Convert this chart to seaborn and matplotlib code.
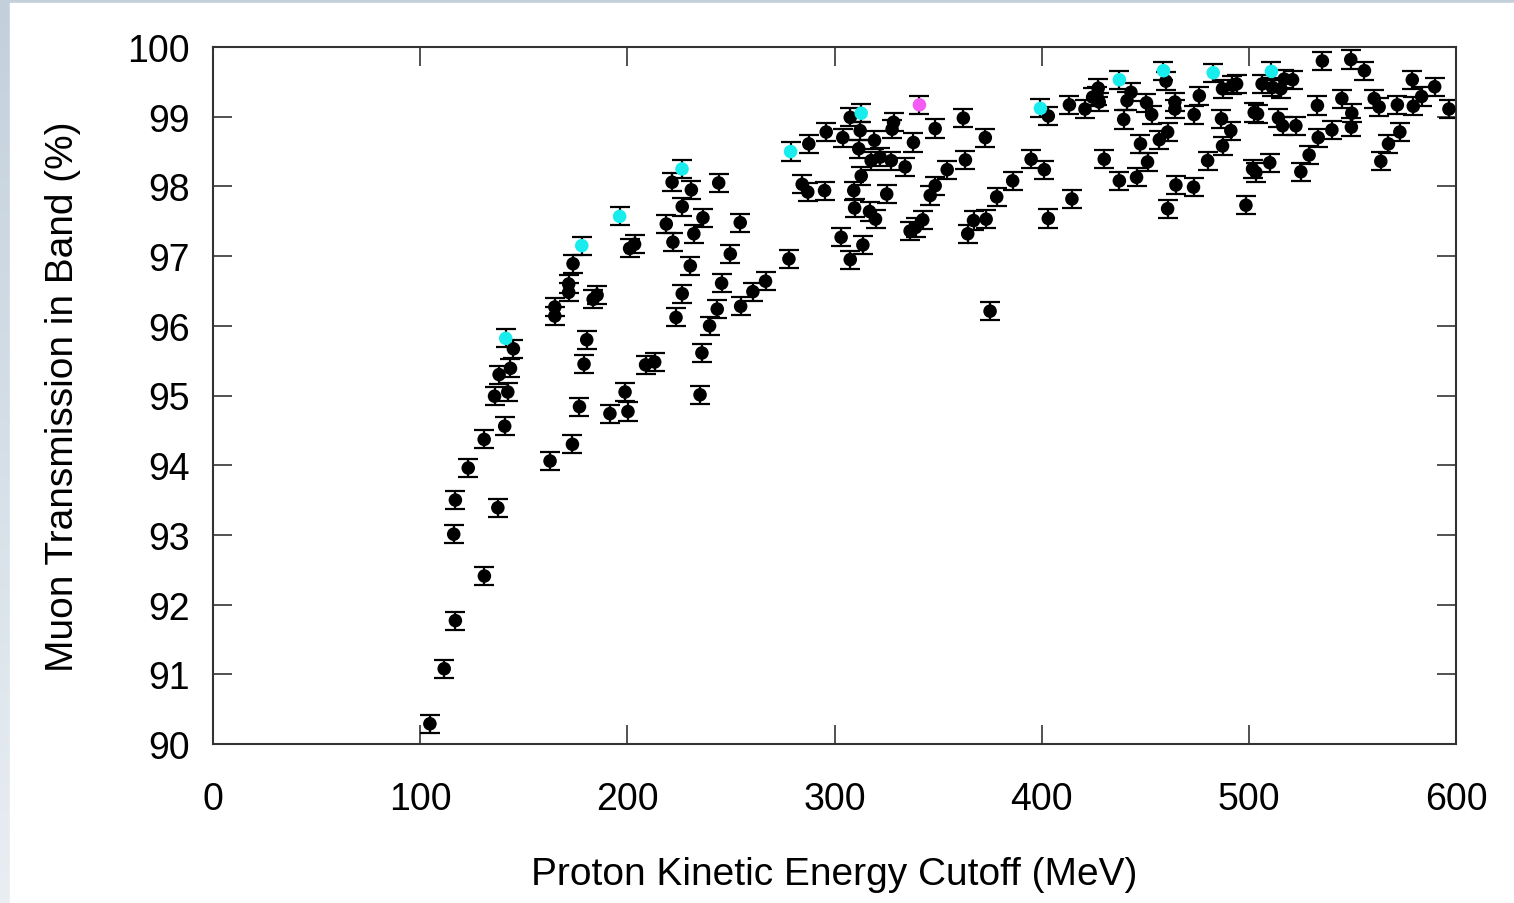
import numpy as np
import pandas as pd
import matplotlib
matplotlib.use("Agg")
import matplotlib.pyplot as plt
from matplotlib.patches import Rectangle
import seaborn as sns

# data (proton KE cutoff in MeV, transmission in %)
energy_black = [
    104.7, 111.6, 117.0, 116.2, 117.0, 131.0, 123.2, 137.5, 130.9, 140.8,
    135.9, 142.3, 138.1, 143.6, 145.0, 162.7, 173.5, 176.9, 179.1, 180.4,
    191.6, 200.3, 198.9, 208.8, 213.2, 171.7, 171.7, 165.0, 165.0, 183.5,
    185.4, 173.8, 201.1, 203.5, 221.6, 230.9, 244.1, 226.5, 218.8, 236.5,
    222.0, 232.1, 254.5, 230.4, 249.7, 226.5, 245.5, 223.5, 243.4, 239.7,
    254.7, 260.6, 266.7, 278.0, 236.0, 235.1, 284.4, 287.1, 287.6, 296.0,
    304.0, 307.6, 312.4, 319.3, 311.7, 328.5, 327.8, 348.6, 362.2, 372.8,
    338.1, 317.7, 322.0, 327.4, 334.1, 312.9, 363.2, 354.4, 295.2, 309.3,
    325.2, 348.6, 346.2, 386.0, 378.3, 309.7, 316.9, 319.8, 342.6, 336.5,
    339.1, 367.1, 373.2, 364.3, 303.2, 313.7, 307.6, 375.1, 403.2, 413.4,
    420.9, 424.6, 427.3, 427.8, 426.7, 443.1, 441.2, 439.6, 450.6, 453.1,
    460.0, 464.3, 464.3, 476.1, 473.6, 487.3, 494.1, 492.1, 486.8, 491.3,
    487.3, 460.8, 456.8, 447.7, 451.1, 445.8, 437.5, 430.2, 394.9, 401.3,
    414.6, 403.2, 464.8, 473.3, 460.8, 480.1, 498.6, 501.8, 503.4, 504.2,
    502.6, 506.4, 511.4, 515.5, 517.1, 521.1, 535.5, 549.2, 555.8, 578.9,
    589.7, 583.4, 596.6, 560.5, 562.9, 571.7, 579.4, 544.9, 549.7, 533.1,
    514.3, 516.3, 522.7, 540.1, 549.5, 533.5, 529.1, 525.1, 572.9, 567.4,
    563.7, 510.1,
]
trans_black = [
    90.29, 91.08, 91.77, 93.01, 93.50, 92.41, 93.96, 93.39, 94.37, 94.56,
    94.99, 95.05, 95.30, 95.39, 95.67, 94.06, 94.30, 94.84, 95.45, 95.80,
    94.74, 94.77, 95.05, 95.44, 95.48, 96.60, 96.48, 96.27, 96.14, 96.38,
    96.44, 96.89, 97.11, 97.17, 98.06, 97.95, 98.05, 97.71, 97.46, 97.55,
    97.20, 97.32, 97.48, 96.86, 97.03, 96.46, 96.61, 96.12, 96.24, 96.00,
    96.28, 96.49, 96.64, 96.96, 95.61, 95.01, 98.03, 97.92, 98.61, 98.78,
    98.70, 98.99, 98.80, 98.66, 98.54, 98.92, 98.82, 98.83, 98.98, 98.70,
    98.63, 98.37, 98.42, 98.37, 98.28, 98.15, 98.38, 98.24, 97.94, 97.94,
    97.89, 98.01, 97.87, 98.08, 97.85, 97.69, 97.64, 97.53, 97.52, 97.36,
    97.41, 97.51, 97.53, 97.32, 97.27, 97.16, 96.95, 96.21, 99.01, 99.17,
    99.11, 99.28, 99.41, 99.21, 99.30, 99.35, 99.23, 98.96, 99.20, 99.03,
    99.51, 99.21, 99.11, 99.30, 99.03, 99.40, 99.47, 99.45, 98.97, 98.80,
    98.58, 98.78, 98.67, 98.61, 98.35, 98.13, 98.08, 98.39, 98.39, 98.24,
    97.82, 97.54, 98.02, 97.99, 97.68, 98.37, 97.73, 98.25, 98.20, 99.04,
    99.06, 99.47, 99.42, 99.40, 99.54, 99.53, 99.80, 99.82, 99.66, 99.53,
    99.43, 99.29, 99.11, 99.26, 99.14, 99.17, 99.15, 99.26, 99.05, 99.16,
    98.98, 98.87, 98.87, 98.81, 98.85, 98.70, 98.45, 98.21, 98.78, 98.61,
    98.36, 98.34,
]
energy_cyan = [141.3, 178.0, 196.3, 226.4, 278.8, 312.9, 399.4, 437.5, 458.8, 482.8, 510.9]
trans_cyan = [95.82, 97.15, 97.57, 98.25, 98.50, 99.05, 99.12, 99.53, 99.66, 99.63, 99.65]
energy_magenta = [341.0]
trans_magenta = [99.17]
trans_err = 0.13

x_ticks = [0, 100, 200, 300, 400, 500, 600]
y_ticks = [90, 91, 92, 93, 94, 95, 96, 97, 98, 99, 100]

df = pd.DataFrame({
    "energy": energy_black + energy_cyan + energy_magenta,
    "trans": trans_black + trans_cyan + trans_magenta,
    "group": ["black"] * len(energy_black) + ["cyan"] * len(energy_cyan)
             + ["magenta"] * len(energy_magenta),
})

sns.set_theme(style="ticks")
plt.rcParams['font.family'] = ['Liberation Sans', 'DejaVu Sans']

fig = plt.figure(figsize=(15.14, 9.04), dpi=100)

# slide-like background: bluish gradient strip at left/top, white page
bg = fig.add_axes([0, 0, 1, 1], zorder=-10)
grad = np.linspace(0, 1, 256).reshape(-1, 1)
bg.imshow(grad, aspect="auto", cmap=matplotlib.colors.LinearSegmentedColormap.from_list(
    "bg", ["#c3d0dc", "#e9eef3"]), extent=[0, 1, 0, 1])
bg.add_patch(Rectangle((10 / 1514, 0), 1, 1 - 4 / 904, color="white", transform=bg.transAxes))
bg.set_xlim(0, 1)
bg.set_ylim(0, 1)
bg.axis("off")

ax = fig.add_axes([213 / 1514, 1 - 745 / 904, (1456 - 213) / 1514, (745 - 48) / 904])
ax.set_facecolor("white")

ax.errorbar(df["energy"], df["trans"], yerr=trans_err, fmt="none",
            ecolor="black", elinewidth=1.6, capsize=7, capthick=1.6, zorder=2)
sns.scatterplot(data=df, x="energy", y="trans", hue="group",
                palette={"black": "black", "cyan": "#19ecec", "magenta": "#f25cf2"},
                s=95, linewidth=0, legend=False, ax=ax, zorder=3)

ax.set_xlim(0, 600)
ax.set_ylim(90, 100)
ax.set_xticks(x_ticks)
ax.set_yticks(y_ticks)
ax.tick_params(direction="in", length=14, width=1.2, labelsize=27,
               top=True, right=True, colors="#333333", labelcolor="black")
ax.tick_params(axis="x", pad=27)
ax.tick_params(axis="y", pad=17)
for sp in ax.spines.values():
    sp.set_linewidth(1.5)
    sp.set_color("#333333")

ax.set_xlabel("Proton Kinetic Energy Cutoff (MeV)", fontsize=28, labelpad=28, color="black")
ax.set_ylabel("Muon Transmission in Band (%)", fontsize=28, labelpad=33, color="black")

fig.savefig("out.png", dpi=100)
